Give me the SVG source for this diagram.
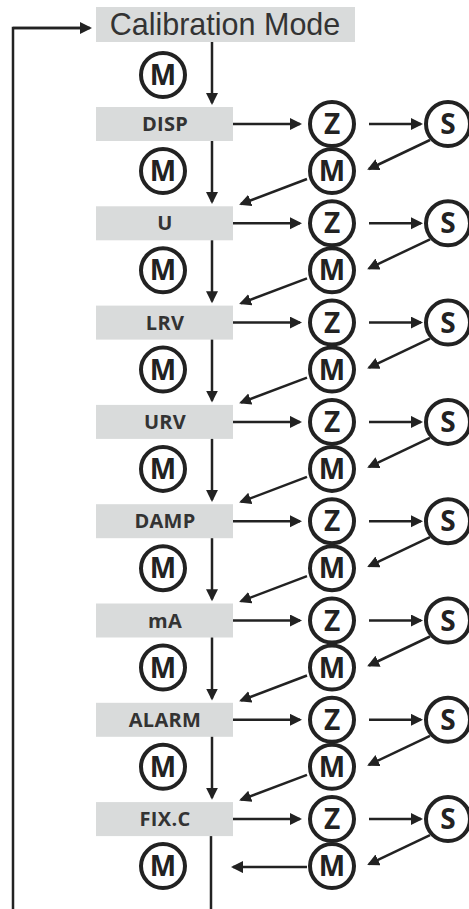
<svg xmlns="http://www.w3.org/2000/svg" width="469" height="909" viewBox="0 0 469 909">
<defs>
<marker id="ah" markerUnits="userSpaceOnUse" markerWidth="13" markerHeight="13" refX="10" refY="6" orient="auto">
<path d="M0,0 L12,6 L0,12 z" fill="#222"/>
</marker>
<style>
.box{fill:#d9dbdb}
.bt{font-family:"Open Sans","DejaVu Sans",sans-serif;font-weight:bold;font-size:20px;fill:#333;text-anchor:middle;letter-spacing:0.3px}
.c{fill:#fff;stroke:#222;stroke-width:4}
.ct{font-family:"Open Sans","DejaVu Sans",sans-serif;font-weight:bold;font-size:28px;fill:#222;text-anchor:middle}
.ln{stroke:#222;stroke-width:2.5;fill:none}
.ar{stroke:#222;stroke-width:2.5;fill:none;marker-end:url(#ah)}
</style>
</defs>
<rect width="469" height="909" fill="#fff"/>

<g id="connectors">
<polyline class="ln" points="13,909 13,28 80,28" stroke-width="3"/>
<line class="ar" x1="13" y1="28" x2="90" y2="28" stroke-width="3"/>
<line class="ar" x1="212" y1="42" x2="212" y2="103" stroke-width="2"/>
</g>

<g id="calibration-mode">
<rect class="box" x="96" y="7" width="259" height="35"/>
<text x="225" y="35" font-family="'Liberation Sans',Arial,sans-serif" font-size="30.5" fill="#333" text-anchor="middle">Calibration Mode</text>
</g>
<g id="m-top"><circle class="c" cx="163" cy="75" r="22"/><text class="ct" x="163" y="85">M</text></g>

<g id="row-disp" transform="translate(0,107)">
<g id="disp"><rect class="box" x="96" y="0" width="137" height="34"/><text class="bt" x="165" y="24">DISP</text></g>
<g id="z1"><circle class="c" cx="332" cy="17" r="22"/><text class="ct" x="332" y="27">Z</text></g>
<g id="s1"><circle class="c" cx="448" cy="17" r="22"/><text class="ct" x="448" y="27">S</text></g>
<g id="mm1"><circle class="c" cx="332" cy="64" r="22"/><text class="ct" x="332" y="74">M</text></g>
<g id="ml1"><circle class="c" cx="163" cy="64" r="22"/><text class="ct" x="163" y="74">M</text></g>
<g class="connectors">
<line class="ar" x1="233" y1="17" x2="300" y2="17"/>
<line class="ar" x1="369" y1="17" x2="421" y2="17"/>
<line class="ar" x1="430" y1="33" x2="369" y2="62"/>
<line class="ar" x1="307" y1="72" x2="241" y2="97"/>
<line class="ar" x1="212" y1="34" x2="212" y2="95"/>
</g>
</g>

<g id="row-u" transform="translate(0,206.3)">
<g id="u"><rect class="box" x="96" y="0" width="137" height="34"/><text class="bt" x="165" y="24">U</text></g>
<g id="z2"><circle class="c" cx="332" cy="17" r="22"/><text class="ct" x="332" y="27">Z</text></g>
<g id="s2"><circle class="c" cx="448" cy="17" r="22"/><text class="ct" x="448" y="27">S</text></g>
<g id="mm2"><circle class="c" cx="332" cy="64" r="22"/><text class="ct" x="332" y="74">M</text></g>
<g id="ml2"><circle class="c" cx="163" cy="64" r="22"/><text class="ct" x="163" y="74">M</text></g>
<g class="connectors">
<line class="ar" x1="233" y1="17" x2="300" y2="17"/>
<line class="ar" x1="369" y1="17" x2="421" y2="17"/>
<line class="ar" x1="430" y1="33" x2="369" y2="62"/>
<line class="ar" x1="307" y1="72" x2="241" y2="97"/>
<line class="ar" x1="212" y1="34" x2="212" y2="95"/>
</g>
</g>

<g id="row-lrv" transform="translate(0,305.6)">
<g id="lrv"><rect class="box" x="96" y="0" width="137" height="34"/><text class="bt" x="165" y="24">LRV</text></g>
<g id="z3"><circle class="c" cx="332" cy="17" r="22"/><text class="ct" x="332" y="27">Z</text></g>
<g id="s3"><circle class="c" cx="448" cy="17" r="22"/><text class="ct" x="448" y="27">S</text></g>
<g id="mm3"><circle class="c" cx="332" cy="64" r="22"/><text class="ct" x="332" y="74">M</text></g>
<g id="ml3"><circle class="c" cx="163" cy="64" r="22"/><text class="ct" x="163" y="74">M</text></g>
<g class="connectors">
<line class="ar" x1="233" y1="17" x2="300" y2="17"/>
<line class="ar" x1="369" y1="17" x2="421" y2="17"/>
<line class="ar" x1="430" y1="33" x2="369" y2="62"/>
<line class="ar" x1="307" y1="72" x2="241" y2="97"/>
<line class="ar" x1="212" y1="34" x2="212" y2="95"/>
</g>
</g>

<g id="row-urv" transform="translate(0,404.9)">
<g id="urv"><rect class="box" x="96" y="0" width="137" height="34"/><text class="bt" x="165" y="24">URV</text></g>
<g id="z4"><circle class="c" cx="332" cy="17" r="22"/><text class="ct" x="332" y="27">Z</text></g>
<g id="s4"><circle class="c" cx="448" cy="17" r="22"/><text class="ct" x="448" y="27">S</text></g>
<g id="mm4"><circle class="c" cx="332" cy="64" r="22"/><text class="ct" x="332" y="74">M</text></g>
<g id="ml4"><circle class="c" cx="163" cy="64" r="22"/><text class="ct" x="163" y="74">M</text></g>
<g class="connectors">
<line class="ar" x1="233" y1="17" x2="300" y2="17"/>
<line class="ar" x1="369" y1="17" x2="421" y2="17"/>
<line class="ar" x1="430" y1="33" x2="369" y2="62"/>
<line class="ar" x1="307" y1="72" x2="241" y2="97"/>
<line class="ar" x1="212" y1="34" x2="212" y2="95"/>
</g>
</g>

<g id="row-damp" transform="translate(0,504.2)">
<g id="damp"><rect class="box" x="96" y="0" width="137" height="34"/><text class="bt" x="165" y="24">DAMP</text></g>
<g id="z5"><circle class="c" cx="332" cy="17" r="22"/><text class="ct" x="332" y="27">Z</text></g>
<g id="s5"><circle class="c" cx="448" cy="17" r="22"/><text class="ct" x="448" y="27">S</text></g>
<g id="mm5"><circle class="c" cx="332" cy="64" r="22"/><text class="ct" x="332" y="74">M</text></g>
<g id="ml5"><circle class="c" cx="163" cy="64" r="22"/><text class="ct" x="163" y="74">M</text></g>
<g class="connectors">
<line class="ar" x1="233" y1="17" x2="300" y2="17"/>
<line class="ar" x1="369" y1="17" x2="421" y2="17"/>
<line class="ar" x1="430" y1="33" x2="369" y2="62"/>
<line class="ar" x1="307" y1="72" x2="241" y2="97"/>
<line class="ar" x1="212" y1="34" x2="212" y2="95"/>
</g>
</g>

<g id="row-ma" transform="translate(0,603.5)">
<g id="ma"><rect class="box" x="96" y="0" width="137" height="34"/><text class="bt" x="165" y="24">mA</text></g>
<g id="z6"><circle class="c" cx="332" cy="17" r="22"/><text class="ct" x="332" y="27">Z</text></g>
<g id="s6"><circle class="c" cx="448" cy="17" r="22"/><text class="ct" x="448" y="27">S</text></g>
<g id="mm6"><circle class="c" cx="332" cy="64" r="22"/><text class="ct" x="332" y="74">M</text></g>
<g id="ml6"><circle class="c" cx="163" cy="64" r="22"/><text class="ct" x="163" y="74">M</text></g>
<g class="connectors">
<line class="ar" x1="233" y1="17" x2="300" y2="17"/>
<line class="ar" x1="369" y1="17" x2="421" y2="17"/>
<line class="ar" x1="430" y1="33" x2="369" y2="62"/>
<line class="ar" x1="307" y1="72" x2="241" y2="97"/>
<line class="ar" x1="212" y1="34" x2="212" y2="95"/>
</g>
</g>

<g id="row-alarm" transform="translate(0,702.8)">
<g id="alarm"><rect class="box" x="96" y="0" width="137" height="34"/><text class="bt" x="165" y="24">ALARM</text></g>
<g id="z7"><circle class="c" cx="332" cy="17" r="22"/><text class="ct" x="332" y="27">Z</text></g>
<g id="s7"><circle class="c" cx="448" cy="17" r="22"/><text class="ct" x="448" y="27">S</text></g>
<g id="mm7"><circle class="c" cx="332" cy="64" r="22"/><text class="ct" x="332" y="74">M</text></g>
<g id="ml7"><circle class="c" cx="163" cy="64" r="22"/><text class="ct" x="163" y="74">M</text></g>
<g class="connectors">
<line class="ar" x1="233" y1="17" x2="300" y2="17"/>
<line class="ar" x1="369" y1="17" x2="421" y2="17"/>
<line class="ar" x1="430" y1="33" x2="369" y2="62"/>
<line class="ar" x1="307" y1="72" x2="241" y2="97"/>
<line class="ar" x1="212" y1="34" x2="212" y2="95"/>
</g>
</g>

<g id="row-fixc" transform="translate(0,802.1)">
<g id="fixc"><rect class="box" x="96" y="0" width="137" height="34"/><text class="bt" x="165" y="24">FIX.C</text></g>
<g id="z8"><circle class="c" cx="332" cy="17" r="22"/><text class="ct" x="332" y="27">Z</text></g>
<g id="s8"><circle class="c" cx="448" cy="17" r="22"/><text class="ct" x="448" y="27">S</text></g>
<g id="mm8"><circle class="c" cx="332" cy="64" r="22"/><text class="ct" x="332" y="74">M</text></g>
<g id="ml8"><circle class="c" cx="163" cy="64" r="22"/><text class="ct" x="163" y="74">M</text></g>
<g class="connectors">
<line class="ar" x1="233" y1="17" x2="300" y2="17"/>
<line class="ar" x1="369" y1="17" x2="421" y2="17"/>
<line class="ar" x1="430" y1="33" x2="369" y2="62"/>
<line class="ar" x1="307" y1="65" x2="233" y2="65"/>
<line class="ln" x1="211" y1="34" x2="211" y2="107" stroke-width="3"/>
</g>
</g>
</svg>
